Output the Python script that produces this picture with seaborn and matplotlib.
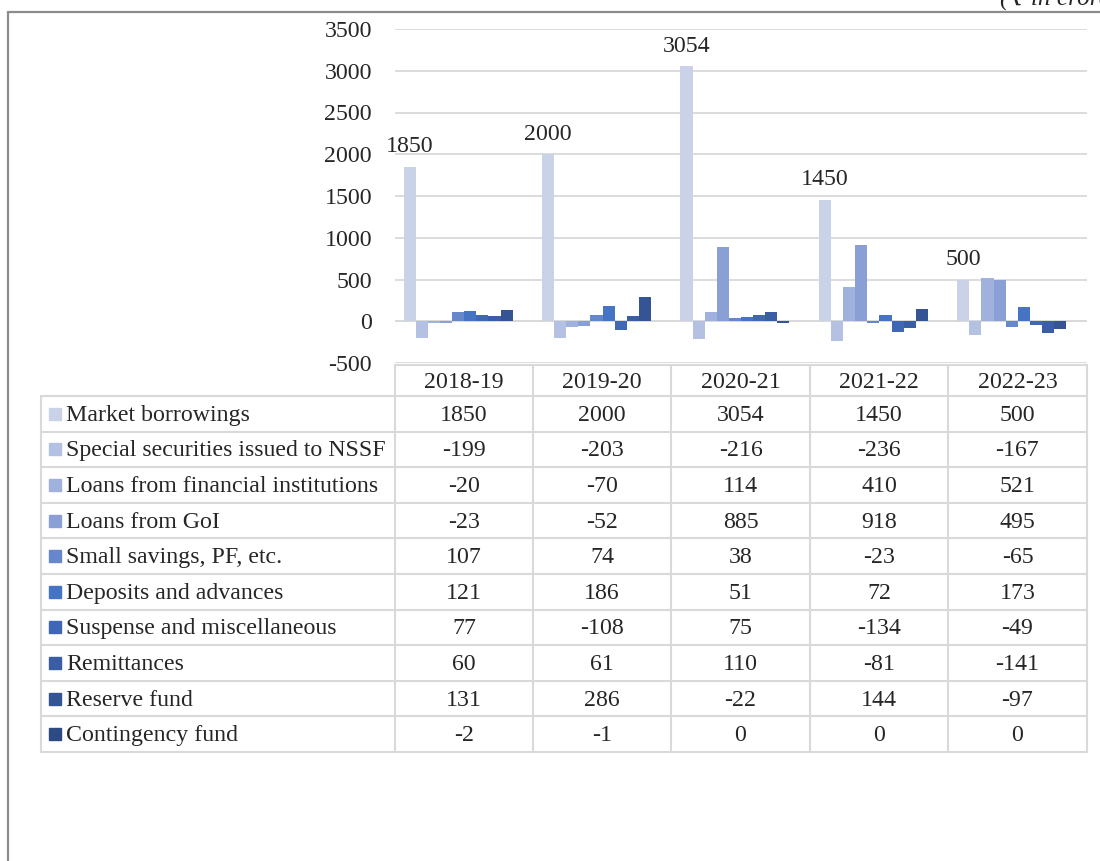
import numpy as np
import pandas as pd
import matplotlib
matplotlib.use("Agg")
import matplotlib.pyplot as plt
import seaborn as sns

years = ["2018-19", "2019-20", "2020-21", "2021-22", "2022-23"]
series_names = [
    "Market borrowings",
    "Special securities issued to NSSF",
    "Loans from financial institutions",
    "Loans from GoI",
    "Small savings, PF, etc.",
    "Deposits and advances",
    "Suspense and miscellaneous",
    "Remittances",
    "Reserve fund",
    "Contingency fund",
]
market_borrowings = [1850, 2000, 3054, 1450, 500]
special_securities = [-199, -203, -216, -236, -167]
loans_fin_inst = [-20, -70, 114, 410, 521]
loans_goi = [-23, -52, 885, 918, 495]
small_savings = [107, 74, 38, -23, -65]
deposits_advances = [121, 186, 51, 72, 173]
suspense_misc = [77, -108, 75, -134, -49]
remittances = [60, 61, 110, -81, -141]
reserve_fund = [131, 286, -22, 144, -97]
contingency_fund = [-2, -1, 0, 0, 0]

series_values = [market_borrowings, special_securities, loans_fin_inst, loans_goi,
                 small_savings, deposits_advances, suspense_misc, remittances,
                 reserve_fund, contingency_fund]

colors = ["#CAD2E8", "#B5C1E2", "#A1B1DD", "#8A9FD5", "#6787CC",
          "#4674C4", "#3F67B5", "#3A5DA4", "#345493", "#2D4A82"]

rows = []
for name, vals in zip(series_names, series_values):
    for yr, v in zip(years, vals):
        rows.append({"Year": yr, "Series": name, "Value": v})
df = pd.DataFrame(rows)

sns.set_theme(style="white")
plt.rcParams["font.family"] = ["Liberation Serif", "DejaVu Serif"]
FS = 17.2

W, H = 1100, 861
fig = plt.figure(figsize=(W / 100, H / 100), dpi=100)

def fx(px):
    return px / W

def fy(py):
    return 1 - py / H

# chart axes
ax_left, ax_right, ax_top, ax_bot = 395, 1087, 29, 363
ax = fig.add_axes([fx(ax_left), fy(ax_bot), fx(ax_right - ax_left), (ax_bot - ax_top) / H])
sns.barplot(data=df, x="Year", y="Value", hue="Series", hue_order=series_names,
            palette=colors, width=0.875, saturation=1, ax=ax, legend=False,
            edgecolor="none", errorbar=None)
ax.set_ylim(-500, 3500)
ax.set_xlim(-0.5, len(years) - 0.5)
ax.set_yticks(np.arange(-500, 3501, 500))
ax.set_yticklabels([str(t) for t in range(-500, 3501, 500)], fontsize=FS)
ax.tick_params(axis="y", length=0, pad=16.5)
ax.set_xticks([])
ax.set_xlabel("")
ax.set_ylabel("")
for s in ax.spines.values():
    s.set_visible(False)
ax.yaxis.grid(True, color="#D9D9D9", linewidth=1.3)
ax.set_axisbelow(True)
ax.axhline(0, color="#D9D9D9", linewidth=1.3, zorder=0.5)

# data labels on market borrowings
bw = 0.875 / len(series_names)
for i, v in enumerate(market_borrowings):
    xc = i - 0.875 / 2 + bw / 2
    ax.annotate(str(v), (xc, v), xytext=(0, 7), textcoords="offset points",
                ha="center", va="bottom", fontsize=FS)

# table drawn in figure pixel coords
tab = fig.add_axes([0, 0, 1, 1], facecolor="none")
tab.set_xlim(0, W)
tab.set_ylim(H, 0)
tab.axis("off")

line_c = "#D9D9D9"
col_edges = [395, 533, 671, 810, 948, 1087]
label_left = 41
header_top, header_bot = 365, 396
row_h = 35.6
row_edges = [header_bot + k * row_h for k in range(len(series_names) + 1)]

tab.plot([col_edges[0], col_edges[-1]], [header_top, header_top], color=line_c, lw=1.5)
for xe in col_edges:
    tab.plot([xe, xe], [header_top, row_edges[-1]], color=line_c, lw=1.5)
tab.plot([label_left, label_left], [header_bot, row_edges[-1]], color=line_c, lw=1.5)
for ye in row_edges:
    tab.plot([label_left, col_edges[-1]], [ye, ye], color=line_c, lw=1.5)

for j, yr in enumerate(years):
    xc = (col_edges[j] + col_edges[j + 1]) / 2
    tab.text(xc, (header_top + header_bot) / 2 + 2, yr, ha="center", va="center", fontsize=FS)

for i, (name, vals, c) in enumerate(zip(series_names, series_values, colors)):
    yc = (row_edges[i] + row_edges[i + 1]) / 2
    tab.add_patch(plt.Rectangle((49, yc - 6), 12, 12, color=c))
    tab.text(66, yc + 1.5, name, ha="left", va="center", fontsize=FS)
    for j, v in enumerate(vals):
        xc = (col_edges[j] + col_edges[j + 1]) / 2
        tab.text(xc, yc + 1.5, str(v), ha="center", va="center", fontsize=FS)

# outer frame
tab.plot([8, 1100], [12, 12], color="#8C8C8C", lw=1.6)
tab.plot([8, 8], [12, H], color="#8C8C8C", lw=1.6)
tab.text(1000, 5, "(₹ in crore)", ha="left", va="baseline", fontsize=FS + 1, style="italic")

fig.savefig("out.png", dpi=100)
